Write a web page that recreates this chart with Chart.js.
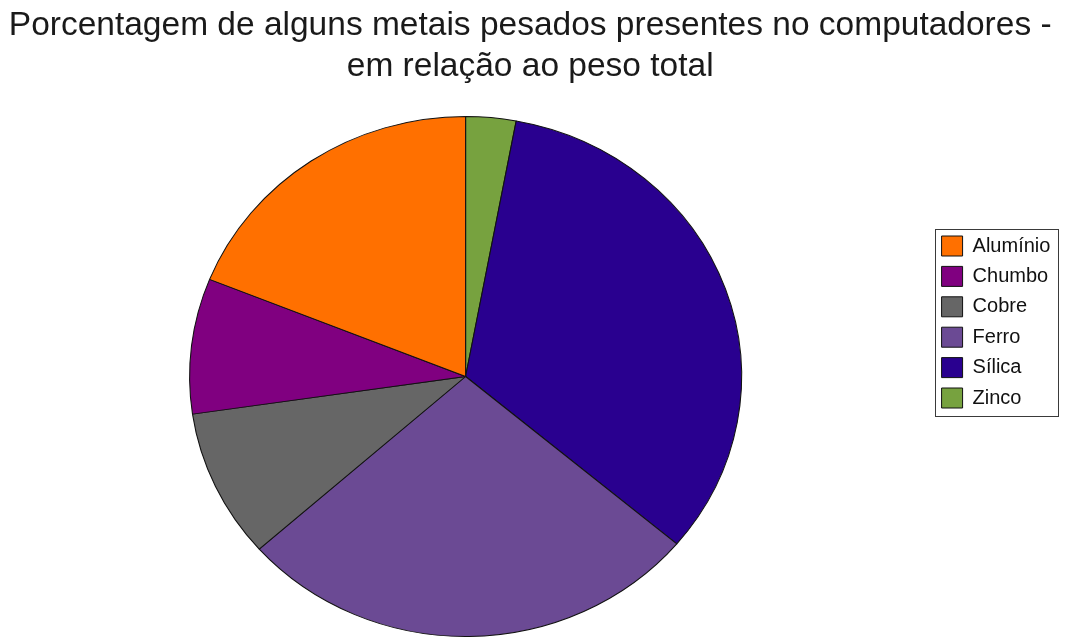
<!DOCTYPE html>
<html>
<head>
<meta charset="utf-8">
<script src="https://cdn.jsdelivr.net/npm/chart.js@4/dist/chart.umd.min.js"></script>
<style>
  html, body { margin: 0; padding: 0; background: #ffffff; }
  #wrap { width: 1066px; height: 643px; }
</style>
</head>
<body>
<div id="wrap"><canvas id="c" width="1066" height="643"></canvas></div>
<script>
// ---- data ----
const titleLines = ['Porcentagem de alguns metais pesados presentes no computadores -', 'em relação ao peso total'];
const categories = ['Alumínio', 'Chumbo', 'Cobre', 'Ferro', 'Sílica', 'Zinco'];
const percentages = [14.17, 6.30, 6.93, 20.47, 24.88, 2.20];
const sliceColors = ['#ff7000', '#800080', '#666666', '#6b4a94', '#29008f', '#77a23f'];

// slices run counter-clockwise from 12 o'clock in the reference:
// feed them reversed (Chart.js goes clockwise) and reverse the legend back
const drawLabels = categories.slice().reverse();
const drawValues = percentages.slice().reverse();
const drawColors = sliceColors.slice().reverse();

const FONT = '"Liberation Sans", Arial, sans-serif';

// the reference pie is slightly wider than tall
const ellipsePlugin = {
  id: 'ellipse',
  beforeDatasetsDraw(chart) {
    const arc = chart.getDatasetMeta(0).data[0];
    const ctx = chart.ctx;
    const sx = 276 / arc.outerRadius;
    ctx.save();
    ctx.translate(arc.x, arc.y);
    ctx.scale(sx, 1);
    ctx.translate(-arc.x, -arc.y);
  },
  afterDatasetsDraw(chart) {
    chart.ctx.restore();
  }
};

// frame drawn around the legend items
const legendFrame = {
  id: 'legendFrame',
  afterDraw(chart) {
    const lg = chart.legend;
    if (!lg || !lg.legendHitBoxes || !lg.legendHitBoxes.length) return;
    const hb = lg.legendHitBoxes;
    let l = Infinity, r = -Infinity, t = Infinity, b = -Infinity;
    hb.forEach(h => {
      l = Math.min(l, h.left); r = Math.max(r, h.left + h.width);
      t = Math.min(t, h.top); b = Math.max(b, h.top + h.height);
    });
    const ctx = chart.ctx;
    ctx.save();
    ctx.strokeStyle = '#3a3a3a';
    ctx.lineWidth = 1;
    ctx.strokeRect(Math.round(l - 7) + 0.5, Math.round(t - 7) + 0.5, Math.round(r - l + 14), Math.round(b - t + 15));
    ctx.restore();
  }
};

new Chart(document.getElementById('c'), {
  type: 'pie',
  data: {
    labels: drawLabels,
    datasets: [{
      data: drawValues,
      backgroundColor: drawColors,
      borderColor: '#111111',
      borderWidth: 1
    }]
  },
  options: {
    responsive: false,
    animation: false,
    events: [],
    layout: { padding: { left: 0, right: 5.6, top: 0, bottom: 6 } },
    plugins: {
      tooltip: { enabled: false },
      title: {
        display: true,
        text: titleLines,
        color: '#1a1a1a',
        font: { family: FONT, size: 33.5, weight: 'normal', lineHeight: 1.2 },
        padding: { top: 6, bottom: 29.6 }
      },
      legend: {
        position: 'right',
        align: 'start',
        reverse: true,
        title: {
          display: true,
          text: '',
          font: { size: 10, lineHeight: 1.2 },
          padding: { top: 213.6, bottom: 0 }
        },
        labels: {
          color: '#111111',
          font: { family: FONT, size: 20 },
          boxWidth: 21,
          boxHeight: 20,
          padding: 10.4
        }
      }
    }
  },
  plugins: [ellipsePlugin, legendFrame]
});
</script>
</body>
</html>
